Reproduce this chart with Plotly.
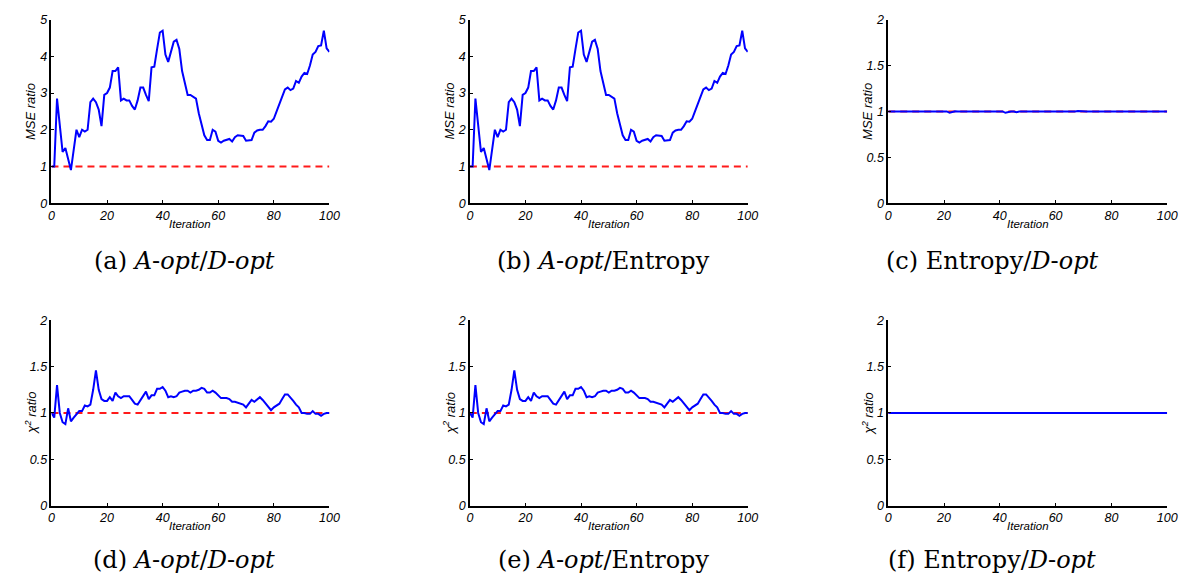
import plotly.graph_objects as go

iterations = list(range(101))

mse_a_d = [1.0, 1.0, 2.85, 2.1, 1.4, 1.5, 1.2, 0.9, 1.45, 2.0,
           1.8, 2.0, 1.95, 2.0, 2.75, 2.85, 2.75, 2.55, 2.1, 2.95,
           3.0, 3.15, 3.6, 3.6, 3.7, 2.8, 2.85, 2.8, 2.8, 2.65,
           2.55, 2.8, 3.15, 3.15, 2.95, 2.78, 3.7, 3.72, 4.2, 4.65,
           4.7, 4.05, 3.85, 4.15, 4.4, 4.45, 4.2, 3.6, 3.25, 2.95,
           2.95, 2.9, 2.85, 2.45, 2.15, 1.85, 1.72, 1.72, 2.0, 1.95,
           1.7, 1.65, 1.7, 1.73, 1.75, 1.68, 1.8, 1.85, 1.85, 1.83,
           1.7, 1.7, 1.72, 1.92, 1.98, 2.0, 2.0, 2.1, 2.23, 2.22,
           2.3, 2.5, 2.7, 2.92, 3.1, 3.15, 3.08, 3.12, 3.33, 3.28,
           3.45, 3.55, 3.52, 3.75, 4.05, 4.12, 4.28, 4.3, 4.7, 4.22,
           4.12]

mse_a_entropy = list(mse_a_d)

mse_entropy_d = [1.0, 0.998, 1.0, 1.0, 0.999, 1.0, 1.0, 1.001, 1.004, 1.0,
                 0.999, 1.003, 1.0, 0.998, 1.0, 1.0, 1.001, 1.0, 1.0, 0.999,
                 1.005, 1.0, 0.985, 0.995, 1.002, 1.0, 1.0, 0.999, 1.001, 1.0,
                 1.0, 1.0, 1.0, 1.001, 1.003, 1.0, 1.0, 0.999, 1.0, 1.0,
                 1.0, 1.0, 0.985, 0.995, 1.0, 1.0, 0.992, 1.0, 1.0, 1.001,
                 0.995, 1.0, 1.0, 1.0, 1.0, 1.0, 1.0, 1.0, 1.0, 1.0,
                 1.0, 1.0, 1.0, 1.0, 1.0, 1.0, 1.0, 1.0, 1.004, 1.0,
                 1.0, 1.0, 1.0, 1.0, 1.0, 1.0, 1.0, 1.0, 1.0, 1.0,
                 1.0, 1.0, 1.0, 1.0, 1.0, 1.0, 1.0, 1.0, 1.0, 1.0,
                 1.0, 1.0, 1.0, 1.0, 1.0, 1.0, 1.0, 1.0, 1.0, 1.0,
                 1.0]

chi_a_d = [1.0, 0.95, 1.3, 1.0, 0.9, 0.88, 1.05, 0.91, 0.95, 0.98,
           1.02, 1.02, 1.08, 1.07, 1.09, 1.25, 1.46, 1.25, 1.15, 1.13,
           1.13, 1.17, 1.13, 1.22, 1.18, 1.16, 1.18, 1.18, 1.18, 1.14,
           1.1, 1.09, 1.14, 1.18, 1.23, 1.15, 1.19, 1.19, 1.26, 1.26,
           1.28, 1.24, 1.17, 1.18, 1.17, 1.18, 1.22, 1.23, 1.24, 1.24,
           1.22, 1.24, 1.24, 1.25, 1.27, 1.26, 1.22, 1.22, 1.24, 1.22,
           1.19, 1.16, 1.16, 1.16, 1.15, 1.12, 1.12, 1.11, 1.1, 1.09,
           1.06, 1.1, 1.14, 1.12, 1.15, 1.17, 1.14, 1.1, 1.07, 1.03,
           1.06, 1.08, 1.1, 1.15, 1.2, 1.2, 1.17, 1.13, 1.09, 1.06,
           1.0, 1.0, 0.99, 0.99, 1.02, 0.99, 0.99, 0.97, 0.99, 1.0,
           1.0]

chi_a_entropy = list(chi_a_d)

chi_entropy_d = [1.0, 1.0, 0.998, 1.0, 1.0, 1.002, 1.0, 1.0, 0.999, 1.0,
                 1.0, 1.0, 1.001, 1.0, 1.0, 1.0, 1.0, 0.999, 1.0, 1.0,
                 1.0, 1.002, 0.996, 1.0, 1.0, 1.0, 1.0, 1.0, 1.0, 1.0,
                 1.0, 1.0, 1.0, 1.0, 1.0, 1.001, 1.0, 1.0, 1.0, 1.0,
                 1.0, 1.0, 1.0, 0.997, 1.0, 1.0, 1.0, 1.0, 1.0, 1.0,
                 1.0, 1.0, 1.0, 1.0, 1.0, 1.0, 1.0, 1.0, 1.0, 1.0,
                 1.0, 1.0, 1.0, 1.0, 1.0, 1.0, 1.0, 1.0, 1.0, 1.0,
                 1.0, 1.0, 1.0, 1.0, 1.0, 1.0, 1.0, 1.0, 1.0, 1.0,
                 1.0, 1.0, 1.0, 1.0, 1.0, 1.0, 1.0, 1.0, 1.0, 1.0,
                 1.0, 1.0, 1.0, 1.0, 1.0, 1.0, 1.0, 1.0, 1.0, 1.0,
                 1.0]

baseline = [1.0] * 101

x_ticks = [0, 20, 40, 60, 80, 100]
mse_ticks_wide = [0, 1, 2, 3, 4, 5]
ratio_ticks_narrow = [0, 0.5, 1, 1.5, 2]
ratio_tick_text = ["0", "0.5", "1", "1.5", "2"]

captions = ["(a) <i>A</i>-<i>opt</i>/<i>D</i>-<i>opt</i>",
            "(b) <i>A</i>-<i>opt</i>/Entropy",
            "(c) Entropy/<i>D</i>-<i>opt</i>",
            "(d) <i>A</i>-<i>opt</i>/<i>D</i>-<i>opt</i>",
            "(e) <i>A</i>-<i>opt</i>/Entropy",
            "(f) Entropy/<i>D</i>-<i>opt</i>"]

W, H = 1192, 579
col_px = [(49, 330), (472, 753), (895, 1177)]
row_px = [(13, 201), (321, 511)]
caption_x_px = [183, 607, 1000]
caption_y_px = [260, 567]

panels = [
    (mse_a_d, "MSE ratio", 5, mse_ticks_wide, [str(v) for v in mse_ticks_wide]),
    (mse_a_entropy, "MSE ratio", 5, mse_ticks_wide, [str(v) for v in mse_ticks_wide]),
    (mse_entropy_d, "MSE ratio", 2, ratio_ticks_narrow, ratio_tick_text),
    (chi_a_d, "χ<sup>2</sup> ratio", 2, ratio_ticks_narrow, ratio_tick_text),
    (chi_a_entropy, "χ<sup>2</sup> ratio", 2, ratio_ticks_narrow, ratio_tick_text),
    (chi_entropy_d, "χ<sup>2</sup> ratio", 2, ratio_ticks_narrow, ratio_tick_text),
]

fig = go.Figure()
tick_font = dict(family="Liberation Sans", size=12.5, color="black", style="italic")
xlabel_font = dict(family="Liberation Sans", size=11.5, color="black", style="italic")
ylabel_font = dict(family="Liberation Sans", size=13, color="black", style="italic")
annotations = []

for k, (series, ylab, ymax, yt, ytt) in enumerate(panels):
    r, c = divmod(k, 3)
    n = k + 1
    xa = "x" if n == 1 else f"x{n}"
    ya = "y" if n == 1 else f"y{n}"
    x0, x1 = col_px[c]
    ytop, ybot = row_px[r]
    fig.add_trace(go.Scatter(x=iterations, y=baseline, mode="lines",
                             line=dict(color="#ff1a1a", width=2, dash="7px,5px"),
                             xaxis=xa, yaxis=ya, showlegend=False))
    fig.add_trace(go.Scatter(x=iterations, y=series, mode="lines",
                             line=dict(color="#0000ff", width=2),
                             xaxis=xa, yaxis=ya, showlegend=False))
    xkey = "xaxis" if n == 1 else f"xaxis{n}"
    ykey = "yaxis" if n == 1 else f"yaxis{n}"
    fig.update_layout(**{
        xkey: dict(domain=[x0 / W, x1 / W], anchor=ya, range=[0, 100],
                   tickvals=x_ticks, ticks="inside", ticklen=3, tickcolor="black",
                   showline=True, linecolor="black", linewidth=1.5,
                   showgrid=False, zeroline=False, tickfont=tick_font),
        ykey: dict(domain=[1 - ybot / H, 1 - ytop / H], anchor=xa, range=[0, ymax],
                   tickvals=yt, ticktext=ytt, ticks="inside", ticklen=3, tickcolor="black",
                   showline=True, linecolor="black", linewidth=1.5,
                   showgrid=False, zeroline=False, tickfont=tick_font),
    })
    annotations.append(dict(text="Iteration", x=(x0 + x1) / 2 / W, y=1 - (ybot + 21) / H,
                            xref="paper", yref="paper", showarrow=False,
                            font=xlabel_font, xanchor="center", yanchor="middle"))
    annotations.append(dict(text=ylab, x=(x0 - 21) / W, y=1 - (ytop + ybot) / 2 / H,
                            xref="paper", yref="paper", showarrow=False, textangle=-90,
                            font=ylabel_font, xanchor="center", yanchor="middle"))
    annotations.append(dict(text=captions[k], x=caption_x_px[c] / W, y=1 - caption_y_px[r] / H,
                            xref="paper", yref="paper", showarrow=False,
                            font=dict(family="DejaVu Serif", size=24, color="black"),
                            xanchor="center", yanchor="middle"))

fig.update_layout(width=W, height=H, margin=dict(l=0, r=0, t=0, b=0),
                  paper_bgcolor="white", plot_bgcolor="white",
                  annotations=annotations)

fig.write_html("out.html")
